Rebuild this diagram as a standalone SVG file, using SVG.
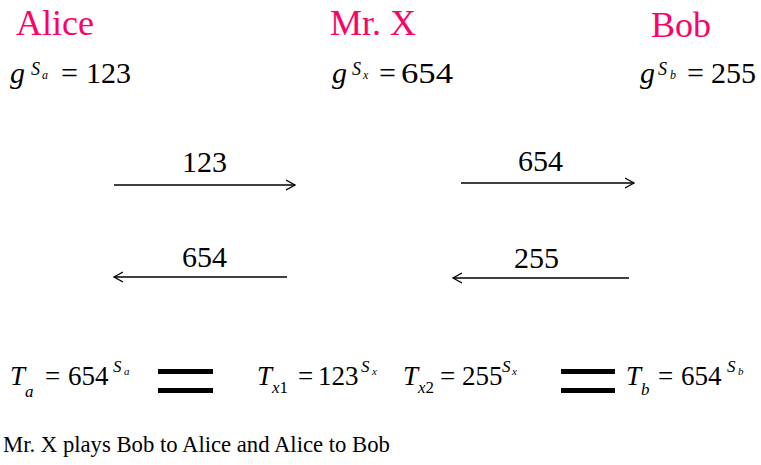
<svg xmlns="http://www.w3.org/2000/svg" width="761" height="465" viewBox="0 0 761 465">
<defs>
<style>
text{font-family:'Liberation Serif','Times New Roman',serif}
.name{fill:#FF0066;font-size:36px}
.i{font-style:italic}
.big{font-size:30px}
.row{font-size:27px}
.sup{font-size:18px;font-style:italic}
.sub{font-size:12px;font-style:italic}
.rsup{font-size:17px;font-style:italic}
.rsubsub{font-size:11px;font-style:italic}
.rsub{font-size:17px;font-style:italic}
.arr{stroke:#000;stroke-width:1.3;fill:none;marker-end:url(#ah)}
.bar{fill:#000}
</style>
<marker id="ah" markerUnits="userSpaceOnUse" markerWidth="12" markerHeight="12" refX="9" refY="5" orient="auto" viewBox="0 0 12 10">
<path d="M0,0 L9,5 L0,10" fill="none" stroke="#000" stroke-width="1.3"/>
</marker>
</defs>
<g font-family="'Liberation Serif', 'Times New Roman', serif" fill="#000">
<g id="alice">
<text class="name" x="16" y="35">Alice</text>
<text class="i big" x="10" y="83">g</text>
<text class="sup" x="31" y="75">S</text>
<text class="sub" x="42" y="79">a</text>
<text class="big" x="61" y="83">=</text>
<text class="big" x="86" y="83">123</text>
</g>
<g id="mrx">
<text class="name" x="330" y="35">Mr. X</text>
<text class="i big" x="332" y="83">g</text>
<text class="sup" x="352" y="75">S</text>
<text class="sub" x="363" y="79">x</text>
<text class="big" x="379" y="83">=</text>
<text class="big" x="401" y="83" textLength="52" lengthAdjust="spacingAndGlyphs">654</text>
</g>
<g id="bob">
<text class="name" x="651" y="37">Bob</text>
<text class="i big" x="640" y="83">g</text>
<text class="sup" x="658" y="75">S</text>
<text class="sub" x="670" y="79">b</text>
<text class="big" x="687" y="83">=</text>
<text class="big" x="711" y="83">255</text>
</g>
<g id="connectors">
<line class="arr" x1="114" y1="185" x2="295" y2="185"/>
<line class="arr" x1="287" y1="277" x2="114" y2="277"/>
<line class="arr" x1="461" y1="183" x2="634" y2="183"/>
<line class="arr" x1="629" y1="278" x2="453" y2="278"/>
<text class="big" x="182" y="172">123</text>
<text class="big" x="182" y="267">654</text>
<text class="big" x="518" y="171">654</text>
<text class="big" x="514" y="268">255</text>
</g>
<g id="result-alice">
<text class="i row" x="10" y="385">T</text>
<text class="rsub" x="25" y="397">a</text>
<text class="row" x="45" y="385">=</text>
<text class="row" x="68" y="385">654</text>
<text class="rsup" x="113" y="372">S</text>
<text class="rsubsub" x="124" y="375">a</text>
</g>
<rect class="bar" x="158" y="369" width="55" height="5"/>
<rect class="bar" x="158" y="388" width="55" height="5"/>
<g id="result-x1">
<text class="i row" x="257" y="385">T</text>
<text class="rsub" x="272" y="393">x<tspan style="font-style:normal">1</tspan></text>
<text class="row" x="298" y="385">=</text>
<text class="row" x="318" y="385">123</text>
<text class="rsup" x="361" y="372">S</text>
<text class="rsubsub" x="372" y="375">x</text>
</g>
<g id="result-x2">
<text class="i row" x="403" y="385">T</text>
<text class="rsub" x="418" y="393">x<tspan style="font-style:normal">2</tspan></text>
<text class="row" x="440" y="385">=</text>
<text class="row" x="462" y="385">255</text>
<text class="rsup" x="502" y="372">S</text>
<text class="rsubsub" x="512" y="375">x</text>
</g>
<rect class="bar" x="561" y="369" width="54" height="5"/>
<rect class="bar" x="561" y="388" width="54" height="5"/>
<g id="result-bob">
<text class="i row" x="626" y="385">T</text>
<text class="rsub" x="641" y="395">b</text>
<text class="row" x="658" y="385">=</text>
<text class="row" x="681" y="385">654</text>
<text class="rsup" x="727" y="372">S</text>
<text class="rsubsub" x="738" y="375">b</text>
</g>
<text x="3" y="452" style="font-size:22.7px">Mr. X plays Bob to Alice and Alice to Bob</text>
</g>
</svg>
